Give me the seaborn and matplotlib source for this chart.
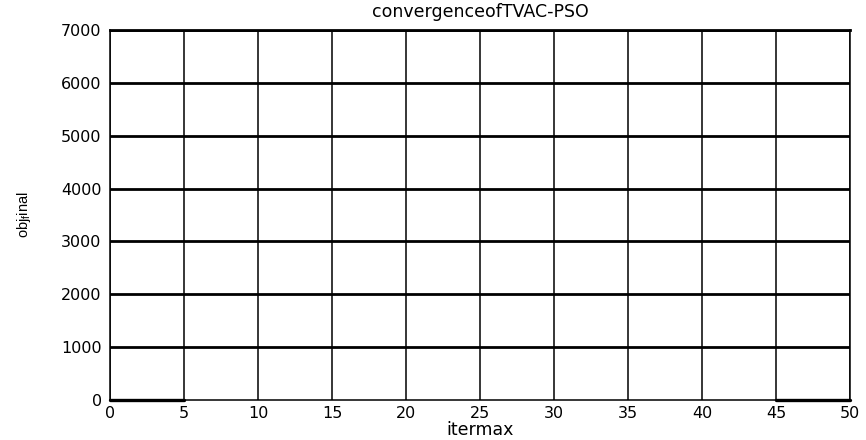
import pandas as pd
import matplotlib
matplotlib.use("Agg")
import matplotlib.pyplot as plt
import seaborn as sns

# convergence history (best objective per iteration), two recorded stretches
iterations = [0, 1, 2, 3, 4, 5, 45, 46, 47, 48, 49, 50]
objective = [0, 0, 0, 0, 0, 0, 0, 0, 0, 0, 0, 0]
segment = [0, 0, 0, 0, 0, 0, 1, 1, 1, 1, 1, 1]
x_ticks = [0, 5, 10, 15, 20, 25, 30, 35, 40, 45, 50]
y_ticks = [0, 1000, 2000, 3000, 4000, 5000, 6000, 7000]

sns.set_style("white")
plt.rcParams["font.family"] = ["DejaVu Sans"]
plt.rcParams["text.color"] = "black"
plt.rcParams["axes.labelcolor"] = "black"
plt.rcParams["mathtext.fontset"] = "custom"
plt.rcParams["mathtext.rm"] = "Liberation Sans"
plt.rcParams["mathtext.it"] = "Liberation Sans"

fig = plt.figure(figsize=(8.66, 4.4), dpi=100)
ax = fig.add_axes([0.127, 0.091, 0.8545, 0.841])

df = pd.DataFrame({"iter": iterations, "obj": objective, "seg": segment})
sns.lineplot(data=df, x="iter", y="obj", units="seg", ax=ax, color="black",
             linewidth=2.4, sort=False, estimator=None, zorder=5,
             clip_on=False)

ax.set_xlim(0, 50)
ax.set_ylim(0, 7000)
ax.set_xticks(x_ticks)
ax.set_yticks(y_ticks)
ax.tick_params(axis="both", length=0, labelsize=11.5, colors="black")
ax.tick_params(axis="x", pad=4)
ax.tick_params(axis="y", pad=6)

ax.grid(False)
for xv in x_ticks:
    ax.axvline(xv, color="black", linewidth=1.1, zorder=1)
for yv in y_ticks[1:]:
    ax.axhline(yv, color="black", linewidth=2.0, zorder=1)

for side, sp in ax.spines.items():
    sp.set_visible(True)
    sp.set_color("black")
    sp.set_linewidth(2.0 if side == "top" else 1.1)

ax.set_title("convergenceofTVAC-PSO", fontsize=12.5, pad=9, color="black")
ax.set_xlabel("itermax", fontsize=12.5, labelpad=0, color="black")
ax.set_ylabel("obj$_f$inal", fontsize=10.5, labelpad=20, color="black",
              fontfamily="Liberation Sans")

fig.savefig("out.png", dpi=100, facecolor="white")
